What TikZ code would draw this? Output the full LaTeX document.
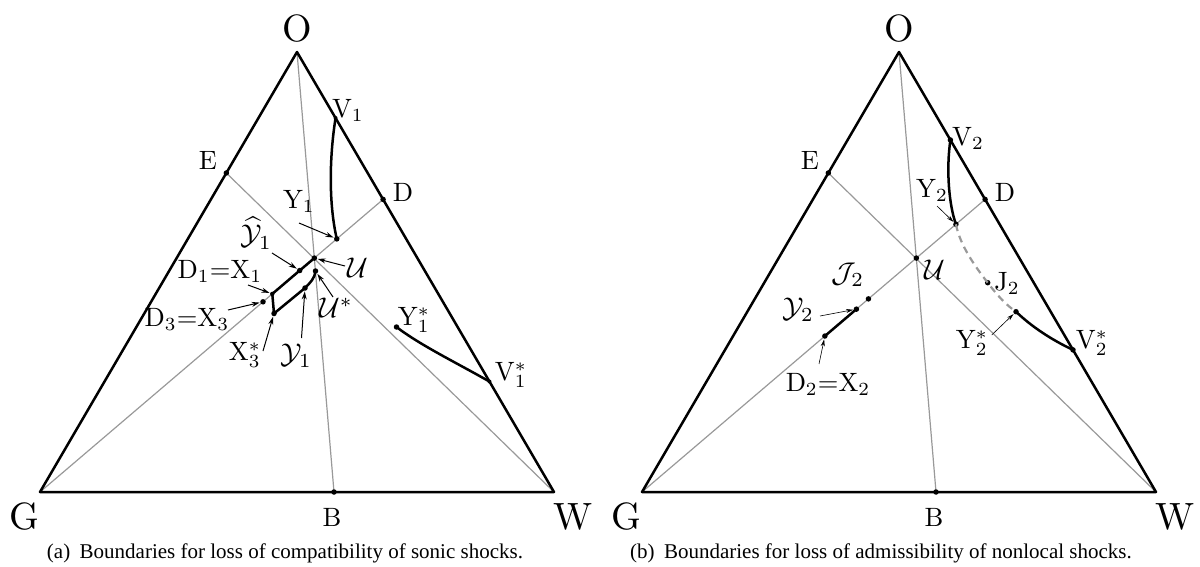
\documentclass[tikz,border=0pt]{standalone}
\usepackage{fontspec}
\newfontfamily\capfont{Liberation Serif}
\usetikzlibrary{calc,arrows.meta}
\newcommand\ternbase[1]{%
  \coordinate (#1O) at (297,52);
  \coordinate (#1G) at (40,492);
  \coordinate (#1W) at (554,492);
  \coordinate (#1B) at (334,492);
  \coordinate (#1E) at ($(#1O)!0.275!(#1G)$);
  \coordinate (#1D) at ($(#1O)!0.335!(#1W)$);
  \draw[guide] (#1O) -- (#1B);
  \draw[guide] (#1E) -- (#1W);
  \draw[guide] (#1G) -- (#1D);
  \draw[edge] (#1O) -- (#1G) -- (#1W) -- cycle;
  \node[dot] (#1Bd) at (#1B) {};
  \node[dot] (#1Ed) at (#1E) {};
  \node[dot] (#1Dd) at (#1D) {};
  \node[dot] (#1U) at (intersection of #1O--#1B and #1G--#1D) {};
  \node[big] (#1Ol) at (297,29) {O};
  \node[big] (#1Gl) at (24,517) {G};
  \node[big] (#1Wl) at (573,517) {W};
  \node[lab] (#1Bl) at (332,517) {B};
  \node[lab] (#1El) at (208,160) {E};
  \node[lab] (#1Dl) at (403,192) {D};
}
\begin{document}
\begin{tikzpicture}[x=1pt,y=-1pt,
  edge/.style={line width=2.5pt,line join=round},
  guide/.style={line width=1.2pt,color=black!40},
  curve/.style={line width=2.5pt,line cap=round,line join=round},
  dashcurve/.style={line width=2.2pt,color=black!40,dash pattern=on 7pt off 5pt},
  dot/.style={circle,fill=black,inner sep=0pt,minimum size=5.5pt},
  lab/.style={font=\fontsize{10}{12}\selectfont,inner sep=0pt,scale=2.65},
  big/.style={font=\fontsize{10}{12}\selectfont,inner sep=0pt,scale=3.8},
  cal/.style={font=\fontsize{10}{12}\selectfont,inner sep=0pt,scale=2.85},
  ptr/.style={-{Stealth[length=8pt,width=5pt]},line width=1pt,shorten >=0.5pt},
  ptrs/.style={-{Stealth[length=7pt,width=4pt]},line width=0.6pt,shorten >=0.5pt},
  capt/.style={font=\capfont\fontsize{21}{24}\selectfont,inner sep=0pt}
]
\useasboundingbox (0,0) rectangle (1200,567);

% ---------------- panel (a) ----------------
\ternbase{a}
\coordinate (aV1) at ($(aO)!0.15!(aW)$);
\node[dot,minimum size=4pt] (aV1d) at (aV1) {};
\node[dot] (aY1) at ($(aG)!0.865!(aD)$) {};
\node[dot] (aYh) at ($(aG)!0.757!(aD)$) {};
\node[dot,minimum size=4.5pt] (aD1) at ($(aG)!0.677!(aD)$) {};
\node[dot] (aD3) at ($(aG)!0.650!(aD)$) {};
\node[dot] (aX3s) at (274,313.5) {};
\node[dot] (aYc) at (305,288) {};
\node[dot] (aUs) at (315.5,271) {};
\node[dot] (aY1s) at (396.5,327) {};
\node[dot,minimum size=4pt] (aV1s) at ($(aO)!0.749!(aW)$) {};

\draw[curve] (aV1d.center) .. controls (329,160) and (329,205) .. (aY1.center);
\draw[curve] (aY1s.center) .. controls (420,345) and (455,362) .. (aV1s.center);
\draw[curve] (aU.center) -- (aYh.center) -- (aD1.center) -- (aX3s.center) -- (aYc.center)
  .. controls (310,283) and (315,278) .. (aUs.center);

\node[lab] (aV1l) at (348,110) {V$_1$};
\node[lab] (aY1l) at (299,201) {Y$_1$};
\node[cal] (aYhl) at (256,233) {$\widehat{\mathcal{Y}}_1$};
\node[cal] (aUl) at (358,268) {$\mathcal{U}$};
\node[lab] (aD1l) at (220,271) {D$_1$=X$_1$};
\node[lab] (aD3l) at (187,319) {D$_3$=X$_3$};
\node[lab] (aX3sl) at (245,355) {X$_3^*$};
\node[cal] (aYcl) at (296,356) {$\mathcal{Y}_1$};
\node[cal] (aUsl) at (336,308) {$\mathcal{U}^*$};
\node[lab] (aY1sl) at (414,320) {Y$_1^*$};
\node[lab] (aV1sl) at (511,375) {V$_1^*$};

\coordinate (aY1t) at (299,223);
\coordinate (aYht) at (272,253);
\coordinate (aUt) at (345,266);
\coordinate (aD1t) at (248,285);
\coordinate (aD3t) at (228,310);
\coordinate (aX3st) at (263,351);
\coordinate (aYct) at (301.5,338);
\coordinate (aUst) at (333,297);
\draw[ptr] (aY1t) -- (aY1);
\draw[ptr] (aYht) -- (aYh);
\draw[ptr] (aUt) -- (aU);
\draw[ptr] (aD1t) -- (aD1);
\draw[ptr] (aD3t) -- (aD3);
\draw[ptr] (aX3st) -- (aX3s);
\draw[ptr] (aYct) -- (aYc);
\draw[ptr] (aUst) -- (aUs);

\node[capt] (acap) at (285,553) {(a)\hspace{0.45em}Boundaries for loss of compatibility of sonic shocks.};

% ---------------- panel (b) ----------------
\begin{scope}[shift={(602,0)}]
\ternbase{b}
\node[dot] (bV2) at ($(bO)!0.2!(bW)$) {};
\node[dot] (bY2) at ($(bG)!0.915!(bD)$) {};
\node[dot] (bJ2) at (385.7,282.7) {};
\node[dot] (bY2s) at (414,311.7) {};
\node[dot] (bV2s) at ($(bO)!0.677!(bW)$) {};
\node[dot] (bJc) at ($(bG)!0.66!(bD)$) {};
\node[dot] (bYc) at ($(bG)!0.625!(bD)$) {};
\node[dot] (bD2) at ($(bG)!0.533!(bD)$) {};

\draw[curve] (bV2.center) .. controls (344,170) and (347,205) .. (bY2.center);
\draw[dashcurve] (bY2.center) .. controls (358,245) and (372,265) .. (bJ2.center)
  .. controls (395,295) and (404,305) .. (bY2s.center);
\draw[curve] (bY2s.center) .. controls (430,327) and (450,340) .. (bV2s.center);
\draw[curve] (bD2.center) -- (bYc.center);

\node[lab] (bV2l) at (366,138) {V$_2$};
\node[lab] (bY2l) at (330,190) {Y$_2$};
\node[cal] (bUl) at (333,270) {$\mathcal{U}$};
\node[lab] (bJ2l) at (405,283) {J$_2$};
\node[cal] (bJcl) at (246,275) {$\mathcal{J}_2$};
\node[cal] (bYcl) at (196,310) {$\mathcal{Y}_2$};
\node[lab] (bY2sl) at (370,343) {Y$_2^*$};
\node[lab] (bV2sl) at (490,343) {V$_2^*$};
\node[lab] (bD2l) at (226,384) {D$_2$=X$_2$};

\coordinate (bY2t) at (335,206);
\coordinate (bYct) at (218,316);
\coordinate (bY2st) at (389.7,335);
\coordinate (bD2t) at (217,364);
\draw[ptrs] (bY2t) -- (bY2);
\draw[ptrs] (bYct) -- (bYc);
\draw[ptrs] (bY2st) -- (bY2s);
\draw[ptrs] (bD2t) -- (bD2);

\node[capt] (bcap) at (279,553) {(b)\hspace{0.45em}Boundaries for loss of admissibility of nonlocal shocks.};
\end{scope}
\end{tikzpicture}
\end{document}
